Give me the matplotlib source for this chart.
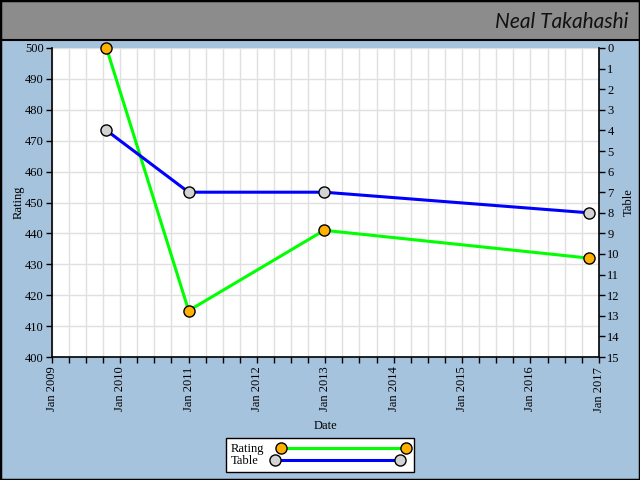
import matplotlib
matplotlib.use("Agg")
import matplotlib.pyplot as plt
import matplotlib.dates as mdates
from matplotlib.patches import Rectangle
import datetime as dt

# ---- data ----
dates = ["2009-10-19", "2011-01-01", "2012-12-25", "2016-11-08"]
rating = [500, 415, 441, 432]
table = [4, 7, 7, 8]
title_text = "Neal Takahashi"

d = [dt.datetime.strptime(s, "%Y-%m-%d") for s in dates]

BG = "#a6c3de"
HEAD = "#8c8c8c"
serif = "Liberation Serif"

fig = plt.figure(figsize=(6.4, 4.8), dpi=100, facecolor=BG)

# header band
fig.patches.append(Rectangle((0, 1 - 40 / 480), 1, 40 / 480, transform=fig.transFigure,
                             facecolor=HEAD, edgecolor="black", linewidth=1.5, zorder=0))
# outer border
fig.patches.append(Rectangle((0, 0), 1, 1, transform=fig.transFigure, fill=False,
                             edgecolor="black", linewidth=2.5, zorder=5))
fig.text(628 / 640, 1 - 22 / 480, title_text, ha="right", va="center",
         fontsize=15, family="Lato", style="italic", weight="normal", color="#111111")

L, R, T, B = 52, 599, 48, 357
ax = fig.add_axes([L / 640, 1 - B / 480, (R - L) / 640, (B - T) / 480])
ax.set_facecolor("white")
ax2 = ax.twinx()

l1, = ax.plot(d, rating, color="#00ff00", lw=2.2, marker="o", ms=8,
              mfc="#ffb000", mec="black", mew=1, zorder=3, clip_on=False, label="Rating")
l2, = ax2.plot(d, table, color="#0000ff", lw=2.2, marker="o", ms=8,
               mfc="#d3d3d3", mec="black", mew=1, zorder=3, clip_on=False, label="Table")

ax.set_xlim(dt.datetime(2009, 1, 1), dt.datetime(2017, 1, 1))
ax.set_ylim(400, 500)
ax2.set_ylim(15, 0)

ax.xaxis.set_major_locator(mdates.YearLocator())
ax.xaxis.set_major_formatter(mdates.DateFormatter("Jan %Y"))
ax.xaxis.set_minor_locator(mdates.MonthLocator(bymonth=[4, 7, 10]))
ax.set_yticks(range(400, 501, 10))
ax2.set_yticks(range(0, 16))

ax.grid(True, which="both", axis="x", color="#e0e0e0", lw=1)
ax.grid(True, which="major", axis="y", color="#e0e0e0", lw=1)
ax.set_axisbelow(True)

for a in (ax, ax2):
    for s in a.spines.values():
        s.set_visible(False)
ax.spines["left"].set_visible(True)
ax.spines["bottom"].set_visible(True)
ax2.spines["right"].set_visible(True)
for s in (ax.spines["left"], ax.spines["bottom"], ax2.spines["right"]):
    s.set_color("black")
    s.set_linewidth(1.2)

ax.tick_params(axis="x", which="both", direction="out", length=4, width=1, pad=3,
               labelrotation=90, labelsize=9)
ax.tick_params(axis="y", direction="out", length=4, width=1, pad=2, labelsize=9)
ax2.tick_params(axis="y", direction="out", length=4, width=1, pad=2, labelsize=9)
for lab in ax.get_xticklabels() + ax.get_yticklabels() + ax2.get_yticklabels():
    lab.set_family(serif)

ax.set_xlabel("Date", family=serif, fontsize=9, labelpad=6)
ax.set_ylabel("Rating", family=serif, fontsize=9, labelpad=0)
ax2.set_ylabel("Table", family=serif, fontsize=9, labelpad=2)

leg = fig.legend([l1, l2], ["Rating", "Table"], loc="center",
                 bbox_to_anchor=(320 / 640, 1 - 455 / 480), markerfirst=False,
                 numpoints=2, handlelength=10.6, handletextpad=1.0, labelspacing=0.0,
                 borderpad=0.4, borderaxespad=0, fancybox=False, framealpha=1,
                 edgecolor="black", prop={"family": serif, "size": 9})
leg.get_frame().set_linewidth(1)
for col in leg._legend_handle_box.get_children():
    col.align = "left"

fig.savefig("out.png", dpi=100, facecolor=BG)
